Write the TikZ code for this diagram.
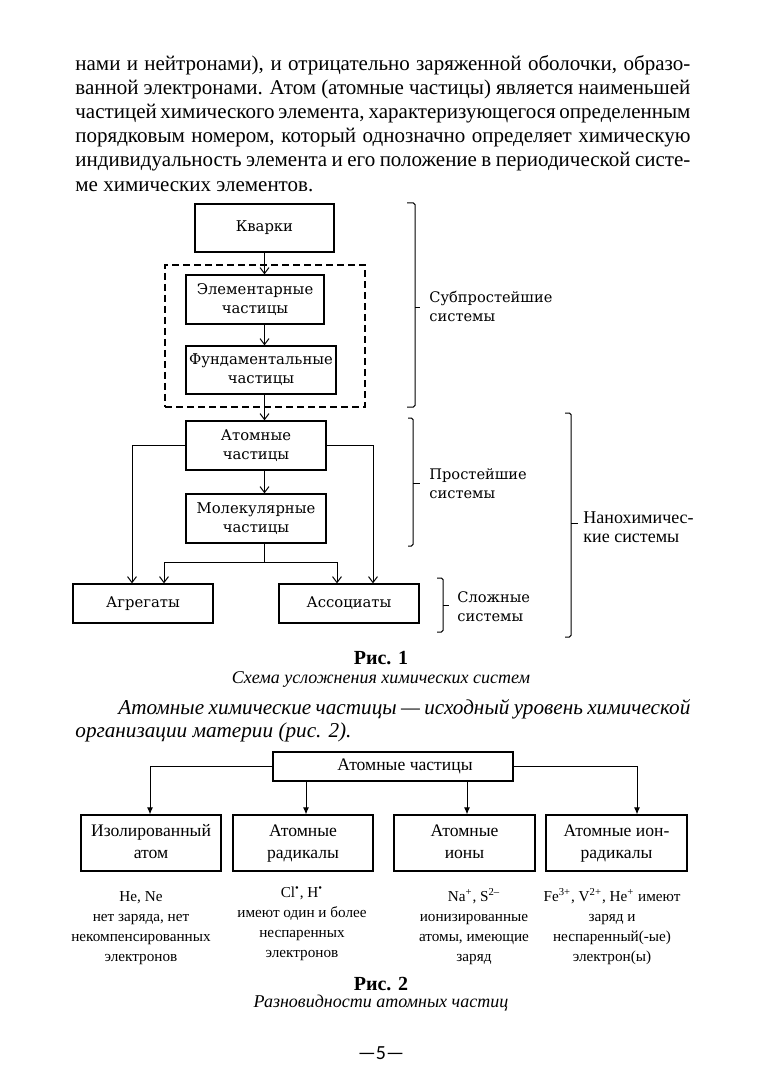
\documentclass[tikz,border=0pt]{standalone}
\usepackage{fontspec}
\setmainfont{Liberation Serif}
\newfontfamily\dvs{DejaVu Serif}
\newfontfamily\pnum{Carlito}
\usetikzlibrary{arrows.meta}
\tikzset{
  fbox/.style={draw, line width=0.6pt, inner sep=0pt, align=center, font=\dvs\fontsize{7.4}{9.5}\selectfont},
  gbox/.style={draw, line width=0.6pt, inner sep=0pt, align=center, font=\fontsize{8.8}{11}\selectfont},
  aone/.style={line width=0.5pt, -{Straight Barb[length=3pt,width=4.5pt]}},
  atwo/.style={line width=0.5pt, -{Latex[length=3.5pt,width=3pt]}},
  brk/.style={line width=0.5pt, rounded corners=0.8pt},
  blab/.style={anchor=west, inner sep=0pt, align=left, font=\dvs\fontsize{7.3}{9.5}\selectfont},
  body/.style={anchor=base west, inner sep=0pt, font=\fontsize{10.5}{12}\selectfont},
  desc/.style={inner sep=0pt, align=center, font=\fontsize{7.6}{10}\selectfont},
}
\begin{document}
\begin{tikzpicture}[x=0.5pt,y=-0.5pt]
\useasboundingbox[fill=white] (0,0) rectangle (763,1079);

% top paragraph
\node[body] (p1) at (75,71) {\makebox[307.5pt][s]{нами и нейтронами), и отрицательно заряженной оболочки, образо-}};
\node[body] (p2) at (75,95) {\makebox[307.5pt][s]{ванной электронами. Атом (атомные частицы) является наименьшей}};
\node[body] (p3) at (75,119) {\makebox[307.5pt][s]{частицей химического элемента, характеризующегося определенным}};
\node[body] (p4) at (75,143) {\makebox[307.5pt][s]{порядковым номером, который однозначно определяет химическую}};
\node[body] (p5) at (75,167) {\makebox[307.5pt][s]{индивидуальность элемента и его положение в периодической систе-}};
\node[body] (p6) at (75,192) {ме химических элементов.};

% Fig 1
\coordinate (sp) at (264.5,0);
\node[draw, dashed, dash pattern=on 3.5pt off 2pt, line width=0.6pt, minimum width=100pt, minimum height=71pt, inner sep=0pt] (dsh) at (265,336) {};
\node[fbox, minimum width=69.5pt, minimum height=24pt] (kv) at (264.5,228) {Кварки};
\node[fbox, minimum width=69pt, minimum height=24.5pt] (el) at (255,299.5) {Элементарные\\частицы};
\node[fbox, minimum width=75pt, minimum height=24pt] (fu) at (261,370) {Фундаментальные\\частицы};
\node[fbox, minimum width=70pt, minimum height=24.5pt] (at) at (256,445.5) {Атомные\\частицы};
\node[fbox, minimum width=70pt, minimum height=24.5pt] (mo) at (256,518.5) {Молекулярные\\частицы};
\node[fbox, minimum width=70pt, minimum height=19.5pt] (ag) at (143,603.5) {Агрегаты};
\node[fbox, minimum width=70pt, minimum height=19.5pt] (as) at (349,603.5) {Ассоциаты};

\draw[aone] (kv.south -| sp) -- (el.north -| sp);
\draw[aone] (el.south -| sp) -- (fu.north -| sp);
\draw[aone] (fu.south -| sp) -- (at.north -| sp);
\draw[aone] (at.south -| sp) -- (mo.north -| sp);
\coordinate (lx) at (132,0);
\coordinate (rx) at (373,0);
\coordinate (mlx) at (164,0);
\coordinate (mrx) at (337,0);
\coordinate (jn) at (264.5,562);
\draw[aone] (at.west) -| (ag.north -| lx);
\draw[aone] (at.east) -| (as.north -| rx);
\draw[line width=0.5pt] (mo.south -| sp) -- (jn);
\draw[aone] (jn) -| (ag.north -| mlx);
\draw[aone] (jn) -| (as.north -| mrx);

% brackets
\draw[brk] (407,203) -- (415,203) -- (415,407) -- (407,407);
\draw[line width=0.5pt] (415,308) -- (420,308);
\draw[brk] (408,418) -- (413,418) -- (413,546) -- (408,546);
\draw[line width=0.5pt] (413,483) -- (420,483);
\draw[brk] (437,578) -- (443,578) -- (443,632) -- (437,632);
\draw[line width=0.5pt] (443,605) -- (449,605);
\draw[brk] (565,413) -- (571,413) -- (571,637) -- (565,637);
\draw[line width=0.5pt] (571,523) -- (578,523);

\node[blab] (l1) at (429,306) {Субпростейшие\\системы};
\node[blab] (l2) at (429,484) {Простейшие\\системы};
\node[blab] (l3) at (457,607) {Сложные\\системы};
\node[anchor=west, inner sep=0pt, align=left, font=\fontsize{9}{9.5}\selectfont] (l4) at (583,527) {Нанохимичес-\\кие системы};

% caption 1
\node[inner sep=0pt, font=\bfseries\fontsize{10}{12}\selectfont] (r1) at (381,658) {Рис. 1};
\node[inner sep=0pt, font=\itshape\fontsize{9}{10}\selectfont] (c1) at (381,679) {Схема усложнения химических систем};

% italic paragraph
\node[body, font=\itshape\fontsize{10.6}{12}\selectfont] (q1) at (118,714) {\makebox[286pt][s]{Атомные химические частицы — исходный уровень химической}};
\node[body, font=\itshape\fontsize{10.6}{12}\selectfont] (q2) at (75,737) {организации материи (рис. 2).};

% Fig 2
\node[gbox, minimum width=120pt, minimum height=14.5pt] (ap) at (393,766.5) {\hspace*{12pt}Атомные частицы\strut};
\node[gbox, minimum width=70pt, minimum height=28pt] (b1) at (151,843) {Изолированный\strut\\атом\strut};
\node[gbox, minimum width=70pt, minimum height=28pt] (b2) at (303,843) {Атомные\strut\\радикалы\strut};
\node[gbox, minimum width=70.5pt, minimum height=28pt] (b3) at (464.5,843) {Атомные\strut\\ионы\strut};
\node[gbox, minimum width=70.5pt, minimum height=28pt] (b4) at (616.5,843) {Атомные ион-\strut\\радикалы\strut};
\coordinate (x1) at (150,0);
\coordinate (x2) at (306,0);
\coordinate (x3) at (467,0);
\coordinate (x4) at (637,0);
\draw[atwo] (ap.west) -| (b1.north -| x1);
\draw[atwo] (ap.south -| x2) -- (b2.north -| x2);
\draw[atwo] (ap.south -| x3) -- (b3.north -| x3);
\draw[atwo] (ap.east) -| (b4.north -| x4);

\node[desc] (d1) at (141,927.5) {He, Ne\strut\\нет заряда, нет\\некомпенсированных\\электронов\strut};
\node[desc] (d2) at (302,923.5) {Cl\textsuperscript{•}, H\textsuperscript{•}\strut\\имеют один и более\\неспаренных\\электронов\strut};
\node[desc] (d3) at (474,927.5) {Na\textsuperscript{+}, S\textsuperscript{2–}\strut\\ионизированные\\атомы, имеющие\\заряд\strut};
\node[desc] (d4) at (612,927.5) {Fe\textsuperscript{3+}, V\textsuperscript{2+}, He\textsuperscript{+} имеют\strut\\заряд и\\неспаренный(-ые)\\электрон(ы)\strut};

\node[inner sep=0pt, font=\bfseries\fontsize{10}{12}\selectfont] (r2) at (381,984) {Рис. 2};
\node[inner sep=0pt, font=\itshape\fontsize{9}{10}\selectfont] (c2) at (381,1003) {Разновидности атомных частиц};

\node[inner sep=0pt, font=\pnum\fontsize{10}{12}\selectfont] (pg) at (381,1053) {—5—};
\end{tikzpicture}
\end{document}
